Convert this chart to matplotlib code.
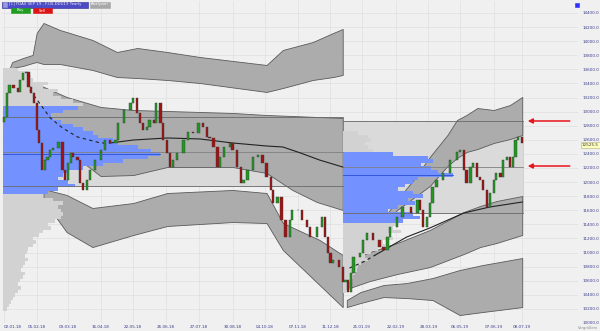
import matplotlib.pyplot as plt
import numpy as np
from matplotlib.patches import Rectangle
import matplotlib.transforms as mtransforms

# x axis = trading-day index, date labels at these bars
tick_idx = [0, 24, 47, 71, 95, 119, 143, 168, 192, 216, 240, 263, 288, 312, 335, 360, 381]
tick_lab = ["02.01.18", "05.02.18", "09.03.18", "16.04.18", "22.05.18", "26.06.18",
            "27.07.18", "30.08.18", "04.10.18", "07.11.18", "11.12.18", "21.01.19",
            "22.02.19", "28.03.19", "06.05.19", "07.06.19", "08.07.19"]

# candles (bar index, close); open = previous close
first_open = 12850
bar_idx = [0, 2, 4, 7, 10, 12, 14, 16, 18, 20, 22, 24, 26, 28, 30, 32, 34, 36, 40, 43,
           45, 47, 49, 51, 54, 56, 58, 61, 63, 67, 71, 74, 78, 82, 84, 88, 93, 95, 98, 100,
           102, 105, 107, 110, 112, 115, 117, 120, 122, 124, 127, 132, 135, 139, 143, 146, 149, 151, 154, 157,
           159, 162, 166, 168, 171, 174, 176, 179, 183, 187, 190, 193, 196, 198, 201, 204, 207, 210, 212, 216,
           219, 223, 225, 230, 234, 236, 238, 240, 242, 246, 249,
           251, 253, 255, 257, 262, 264, 267, 271, 276, 279, 282, 284, 289, 293, 299, 304, 306, 308, 311, 313,
           315, 318, 323, 328, 333, 335, 338, 340, 343, 345, 348, 350, 352, 355, 357, 360, 362, 365, 367, 370,
           372, 374, 376, 378, 381]
closes = [12924, 13264, 13378, 13335, 13279, 13449, 13548, 13563, 13350, 13264, 13122, 12739, 12555, 12171, 12313, 12356, 12455, 12484, 12569, 12171,
          12030, 12271, 12413, 12356, 12313, 11987, 11888, 12030, 12171, 12313, 12455, 12597, 12555, 12597, 12838, 13023, 13122, 13193, 12981, 12838,
          12739, 12782, 12881, 12838, 13122, 12838, 12597, 12413, 12214, 12313, 12413, 12597, 12711, 12697, 12838, 12782, 12640, 12626, 12498, 12214,
          12356, 12498, 12555, 12455, 12214, 11987, 12030, 12171, 12356, 12384, 12271, 12072, 11888, 11703, 11788, 11462, 11220, 11462, 11604, 11604,
          11462, 11362, 11220, 11362, 11504, 11220, 10993, 10851, 10894, 10794, 10582,
          10610, 10439, 10709, 10936, 10993, 11178, 11277, 11178, 11078, 11036, 11220, 11362, 11504, 11646, 11561, 11746, 11604, 11362, 11504, 11703,
          11930, 12030, 12129, 12313, 12427, 12455, 12171, 11987, 12214, 12271, 12072, 12030, 11888, 11646, 11845, 12030, 12129, 12072, 12313, 12356,
          12214, 12356, 12597, 12640, 12555]
last_price = 12525.5

# yearly value areas (low, mid, high) and year spans in bars
va18 = (11944, 12427, 12924)
va19 = (11561, 12214, 12867)
span18 = (-0.7, 249)
span19 = (249.3, 381.5)

# volume profiles, 50-point bins from the top level down
bin_size = 50
prof18_top = 13600
vol18 = [15, 25, 28, 30, 45, 40, 55, 50, 58, 70,
         80, 75, 60, 48, 50, 58, 70, 80, 90, 95,
         110, 115, 135, 148, 157, 145, 120, 100, 80, 65,
         60, 55, 65, 72, 55, 45, 40, 50, 60, 55,
         58, 60, 58, 52, 45, 48, 40, 36, 30, 33,
         30, 25, 24, 22, 25, 22, 20, 18, 22, 20,
         17, 15, 18, 15, 12, 10, 8, 6, 4]
blue18 = (11850, 13050)
prof19_top = 12700
vol19 = [15, 25, 28, 22, 25, 30, 50, 85, 90, 78,
         88, 95, 110, 75, 70, 62, 55, 70, 80, 65,
         72, 55, 45, 70, 77, 60, 55, 50, 58, 45,
         50, 40, 42, 35, 28, 22, 25, 18, 15, 14,
         12, 10, 8, 6, 5, 3]
blue19 = (11450, 12400)

# deviation bands: bar index, upper edge, lower edge
bandA_x = [3, 6, 14, 21, 24, 29, 41, 65, 83, 98, 120, 144, 193, 205, 227, 242, 249]
bandA_hi = [13563, 13704, 13761, 13804, 14116, 14258, 14159, 14017, 13846, 13903, 13846, 13775, 13662, 13875, 13988, 14116, 14173]
bandA_lo = [13563, 13620, 13648, 13690, 13704, 13676, 13676, 13591, 13491, 13477, 13449, 13406, 13279, 13335, 13449, 13491, 13520]

bandB_x = [3, 21, 46, 71, 95, 120, 144, 168, 193, 212, 230, 249]
bandB_hi = [13449, 13420, 13208, 13066, 13023, 13009, 12995, 12981, 12952, 12938, 12924, 12910]
bandB_lo = [13420, 13023, 12455, 12086, 12100, 12214, 12214, 12214, 12129, 11888, 11717, 11604]

bandC_x = [29, 46, 65, 95, 120, 168, 193, 205, 232, 249]
bandC_hi = [11902, 11817, 11632, 11703, 11845, 11888, 11845, 11419, 11178, 10965]
bandC_lo = [11746, 11291, 11078, 11249, 11377, 11433, 11419, 11036, 10539, 10226]

bandD_x = [274, 289, 301, 313, 326, 333, 340, 348, 360, 372, 381]
bandD_hi = [11348, 11746, 12030, 12356, 12668, 12881, 12952, 13051, 13023, 13094, 13208]
bandD_lo = [11334, 11604, 11774, 11944, 12228, 12342, 12427, 12469, 12555, 12611, 12668]

bandE_x = [254, 269, 289, 313, 338, 350, 362, 381]
bandE_hi = [10894, 11007, 11135, 11320, 11575, 11660, 11731, 11802]
bandE_lo = [10496, 10596, 10695, 10794, 10979, 11078, 11135, 11249]

bandF_x = [252, 262, 279, 296, 315, 335, 352, 381]
bandF_hi = [10326, 10439, 10539, 10567, 10638, 10752, 10823, 10922]
bandF_lo = [10226, 10283, 10368, 10354, 10326, 10113, 10156, 10226]

# regression mid lines (first part dashed)
mid18_x = [19, 26, 34, 43, 54, 71, 78, 95, 120, 144, 168, 193, 205, 218, 232, 249]
mid18_y = [13307, 13122, 12910, 12768, 12640, 12555, 12555, 12597, 12626, 12612, 12555, 12512, 12498, 12413, 12313, 12214]
mid18_dash_end = 78
mid19_x = [254, 264, 273, 296, 313, 338, 357, 381]
mid19_y = [10780, 10865, 10965, 11220, 11348, 11561, 11646, 11717]
mid19_dash_end = 273

arrow_levels = [12867, 12228]

W, H = 600, 331
px_per_bar = 1.36
bg = "#f0f0f0"
band_fc = "#acacac"
band_ec = "#5a5a5a"
blue = "#7392ff"
light = "#d2d2d2"
lab_col = "#3c3c8c"

fig = plt.figure(figsize=(W / 100, H / 100), dpi=100, facecolor=bg)
ax = fig.add_axes([2 / W, 8 / H, 576 / W, 322 / H], facecolor=bg)
ax.set_xlim(-1.5, 422)
ax.set_ylim(10000, 14570)

# value area boxes
for (x0, x1), (lo, mid, hi) in [(span18, va18), (span19, va19)]:
    ax.add_patch(Rectangle((x0, lo), x1 - x0, hi - lo, fc="#dadada", ec="#c8c8c8", lw=0.5, zorder=1))

# bands
for bx, hi, lo in [(bandA_x, bandA_hi, bandA_lo), (bandB_x, bandB_hi, bandB_lo),
                   (bandC_x, bandC_hi, bandC_lo), (bandD_x, bandD_hi, bandD_lo),
                   (bandE_x, bandE_hi, bandE_lo), (bandF_x, bandF_hi, bandF_lo)]:
    ax.fill_between(bx, lo, hi, fc=band_fc, ec=band_ec, lw=0.6, zorder=2)

# volume profiles
for top, vols, start, (blo, bhi) in [(prof18_top, vol18, span18[0], blue18),
                                     (prof19_top, vol19, span19[0], blue19)]:
    lvls = top - bin_size * np.arange(len(vols))
    widths = np.array(vols) / px_per_bar
    cols = [blue if blo <= lv <= bhi else light for lv in lvls]
    ax.barh(lvls, widths, height=bin_size, left=start, color=cols, lw=0, zorder=3)
    k = int(np.argmax(vols))
    ax.plot([start, start + widths[k]], [lvls[k], lvls[k]], color="#2a4fd8", lw=0.6, zorder=4)

# value area lines
for (x0, x1), levels in [(span18, va18), (span19, va19)]:
    for i, lv in enumerate(levels):
        ax.plot([x0, x1], [lv, lv], color="#6a6a6a" if i != 1 else "#808080", lw=0.6, zorder=3.5)

# mid lines
for mx, my, cut in [(mid18_x, mid18_y, mid18_dash_end), (mid19_x, mid19_y, mid19_dash_end)]:
    mx = np.array(mx); my = np.array(my)
    d = mx <= cut
    ax.plot(mx[d], my[d], color="#222222", lw=0.8, ls=(0, (3, 3)), zorder=5)
    s = mx >= cut
    ax.plot(mx[s], my[s], color="#222222", lw=0.8, zorder=5)

# candles
opens = np.array([first_open] + closes[:-1])
cl = np.array(closes)
ccol = np.where(cl >= opens, "#1f9a1f", "#a31212")
ax.bar(bar_idx, cl - opens, bottom=opens, width=1.6, color=ccol, edgecolor="#3a3a3a", lw=0.3, zorder=6)

# red arrows
for lv in arrow_levels:
    ax.annotate("", xy=(383, lv), xytext=(418, lv),
                arrowprops=dict(arrowstyle="-|>", color="#e8141c", lw=1.1, mutation_scale=7), zorder=8)

# axes styling
ax.set_xticks(tick_idx)
ax.set_xticklabels(tick_lab)
ax.get_xticklabels()[0].set_horizontalalignment("left")
yt = np.arange(10000, 14401, 200)
ax.set_yticks(yt)
ax.set_yticklabels([f"{v:.1f}" for v in yt])
ax.yaxis.tick_right()
ax.tick_params(axis="both", length=0, labelsize=3, labelcolor=lab_col)
ax.tick_params(axis="x", pad=1.5)
ax.tick_params(axis="y", pad=3)
ax.grid(color="#e0e0e0", lw=0.5, zorder=0)
ax.set_axisbelow(True)
for sp in ax.spines.values():
    sp.set_visible(False)

trans = mtransforms.blended_transform_factory(ax.transAxes, ax.transData)
ax.text(1.007, last_price, f"{last_price:.1f}", transform=trans, fontsize=3, color="#333333",
        va="center", ha="left", bbox=dict(boxstyle="square,pad=0.2", fc="#ffffc0", ec="#b0b080", lw=0.4), zorder=9)


# header widgets (pixel boxes)
def box(x, y, w, h, fc, text, tc, ec=None):
    fig.add_artist(Rectangle((x / W, 1 - (y + h) / H), w / W, h / H, fc=fc, ec=ec or fc, lw=0.4,
                             transform=fig.transFigure))
    if text:
        fig.text((x + w / 2) / W, 1 - (y + h / 2) / H, text, fontsize=2.8, color=tc, ha="center", va="center")


box(2, 1.5, 86, 6, "#4b4bc6", "[1] FDAX SEP 19 - F.US.DDU19 Yearly", "#e8e8ff", "#2a2a8a")
box(3, 2.5, 3.5, 4, "#9a9ae0", "", "")
box(89.5, 1.5, 20, 6, "#a8a8a8", "Analysen", "white")
box(11, 8, 19, 5, "#1e9e1e", "Buy", "white")
box(32.5, 8, 19, 5, "#dd1414", "Sell", "white")
box(575, 3, 4, 4, "#2f2fff", "", "")
fig.text(578 / W, 1 - 327.5 / H, "Vergrößern", fontsize=2.6, color="#909090", va="center", ha="left")

fig.savefig("out.png", dpi=100, facecolor=bg)
